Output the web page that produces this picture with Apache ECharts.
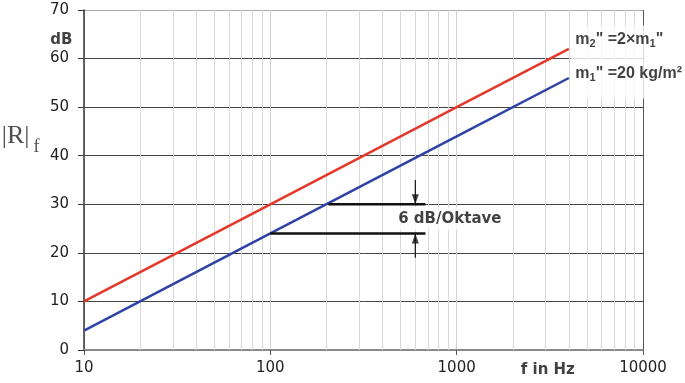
<!DOCTYPE html>
<html><head><meta charset="utf-8">
<script src="https://cdn.jsdelivr.net/npm/echarts@6/dist/echarts.min.js"></script>
<style>html,body{margin:0;padding:0;background:#fff}#c{width:685px;height:383px}</style>
</head><body><div id="c"></div>
<script>
// ---- data ----
const frequencies = [10, 100, 1000, 4000];
const rM2 = [10, 30, 50, 62];   // m2" = 2 x m1"
const rM1 = [4, 24, 44, 56];    // m1" = 20 kg/m²
const xTickValues = [10, 100, 1000, 10000];
const yTickValues = [0, 10, 20, 30, 40, 50, 60, 70];
const minorGridFreqs = [20,30,40,50,60,70,80,90,200,300,400,500,600,700,800,900,2000,3000,4000,5000,6000,7000,8000,9000];
const stepUpper = [[205, 30], [680, 30]];
const stepLower = [[100, 24], [680, 24]];
const arrowDownShaft = [[600, 35], [600, 30]];
const arrowUpShaft = [[600, 19], [600, 24]];
const arrowTips = [[600, 30], [600, 24]];
const textOktave = '6 dB/Oktave';
const textUnit = 'dB';
const textXName = 'f in Hz';
const textYName = '|R|';
const textYSub = 'f';

const pair = (xs, ys) => xs.map((x, i) => [x, ys[i]]);
const sans = 'DejaVu Sans';
const arial = 'Liberation Sans';

const chart = echarts.init(document.getElementById('c'), null, {renderer: 'canvas'});
const legendRich = {
  m: {fontFamily: arial, fontWeight: 'bold', fontSize: 16, color: '#111', lineHeight: 20},
  s: {fontFamily: arial, fontWeight: 'bold', fontSize: 11, color: '#111', lineHeight: 11, verticalAlign: 'bottom'}
};
const option = {
  animation: false,
  backgroundColor: '#fff',
  grid: {left: 84, right: 42, top: 10, bottom: 33},
  xAxis: {
    type: 'log', logBase: 10, min: xTickValues[0], max: xTickValues[xTickValues.length - 1],
    axisLine: {show: true, lineStyle: {color: '#8a8a8a', width: 2}},
    axisTick: {show: true, length: 5, lineStyle: {color: '#555'}},
    axisLabel: {fontFamily: sans, fontSize: 15, color: '#222', margin: 11,
      showMinLabel: true, showMaxLabel: true, formatter: v => String(Math.round(v))},
    splitLine: {show: true, lineStyle: {color: ['#d0d0d0', '#d0d0d0', '#d0d0d0', '#555'], width: 1}}
  },
  yAxis: {
    type: 'value', min: yTickValues[0], max: yTickValues[yTickValues.length - 1], interval: 10,
    axisLine: {show: true, lineStyle: {color: '#333', width: 1.5}},
    axisTick: {show: true, length: 6, lineStyle: {color: '#333'}},
    axisLabel: {fontFamily: sans, fontSize: 15, color: '#222', margin: 15},
    splitLine: {show: true, lineStyle: {color: ['#888', '#444', '#444', '#444', '#444', '#444', '#444', '#aaa'], width: 1}}
  },
  series: [
    {
      type: 'line', data: [], z: 1, silent: true,
      markLine: {silent: true, symbol: 'none', animation: false, label: {show: false},
        lineStyle: {color: '#d8d8d8', width: 1, type: 'solid'},
        emphasis: {disabled: true},
        data: minorGridFreqs.map(f => ({xAxis: f}))}
    },
    {type: 'line', data: pair(frequencies, rM2), showSymbol: false, z: 5,
      lineStyle: {color: '#e4382b', width: 2.5}, itemStyle: {color: '#e4382b'}},
    {type: 'line', data: pair(frequencies, rM1), showSymbol: false, z: 5,
      lineStyle: {color: '#2f42a6', width: 2.5}, itemStyle: {color: '#2f42a6'}},
    {type: 'line', data: stepUpper, showSymbol: false, z: 6, lineStyle: {color: '#111', width: 2.5}},
    {type: 'line', data: stepLower, showSymbol: false, z: 6, lineStyle: {color: '#111', width: 2.5}},
    {type: 'line', data: arrowDownShaft, showSymbol: false, z: 6, lineStyle: {color: '#111', width: 1.2}},
    {type: 'line', data: arrowUpShaft, showSymbol: false, z: 6, lineStyle: {color: '#111', width: 1.2}},
    {type: 'scatter', z: 7, symbol: 'triangle', symbolSize: [7, 10], itemStyle: {color: '#111'},
      data: [
        {value: arrowTips[0], symbolRotate: 180, symbolOffset: [0, -5]},
        {value: arrowTips[1], symbolRotate: 0, symbolOffset: [0, 5]}
      ]},
    {
      type: 'scatter', z: 10, clip: false, symbol: 'circle', symbolSize: 1,
      itemStyle: {color: 'rgba(0,0,0,0)'},
      data: [
        {value: [465, 27], label: {show: true, position: 'right', distance: 0, formatter: textOktave,
          fontFamily: sans, fontWeight: 'bold', fontSize: 15, color: '#111',
          backgroundColor: '#fff', padding: [4, 3, 4, 3]}},
        {value: [10, 63.9], label: {show: true, position: 'left', distance: 11, formatter: textUnit,
          fontFamily: sans, fontWeight: 'bold', fontSize: 15, color: '#111'}},
        {value: [3083, -4.2], label: {show: true, position: 'inside', formatter: textXName,
          fontFamily: sans, fontWeight: 'bold', fontSize: 15, color: '#111'}},
        {value: [10, 44.1], label: {show: true, position: 'left', distance: 54, formatter: textYName,
          fontFamily: 'Liberation Serif', fontSize: 26, color: '#222'}},
        {value: [10, 41.8], label: {show: true, position: 'left', distance: 44, formatter: textYSub,
          fontFamily: 'Liberation Serif', fontSize: 18, color: '#222'}},
        {value: [4050, 63.6], label: {show: true, position: 'right', distance: 0,
          formatter: '{m|m}{s|2}{m|" =2×m}{s|1}{m|"}',
          backgroundColor: '#fff', padding: [4, 30, 7, 5], rich: legendRich}},
        {value: [4050, 56.1], label: {show: true, position: 'right', distance: 0,
          formatter: '{m|m}{s|1}{m|" =20 kg/m²}',
          backgroundColor: '#fff', padding: [7, 10, 15, 5], rich: legendRich}}
      ]
    }
  ]
};
chart.setOption(option);
</script>
</body></html>
